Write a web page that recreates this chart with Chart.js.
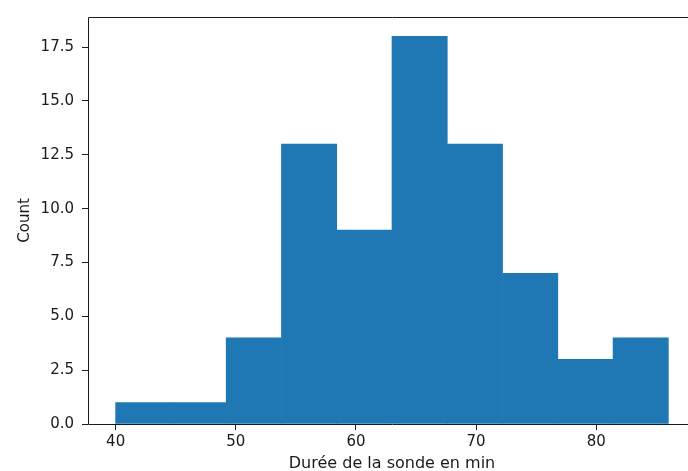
<!DOCTYPE html>
<html>
<head>
<meta charset="utf-8">
<script src="https://cdn.jsdelivr.net/npm/chart.js@4/dist/chart.umd.min.js"></script>
<style>
  html, body { margin: 0; padding: 0; overflow: hidden; background: #fff; width: 688px; height: 471px; }
  #wrap { width: 688px; height: 471px; overflow: hidden; position: relative; }
  #hist { position: absolute; left: 0; top: 0; }
</style>
</head>
<body>
<div id="wrap"><canvas id="hist" width="710" height="473"></canvas></div>
<script>
// Histogram bins (edges) and counts
const binEdges = [40, 44.6, 49.2, 53.8, 58.4, 63, 67.6, 72.2, 76.8, 81.4, 86]
const counts = [1, 1, 4, 13, 9, 18, 13, 7, 3, 4]
const xTicks = [40, 50, 60, 70, 80]
const yTicks = [0, 2.5, 5, 7.5, 10, 12.5, 15, 17.5]

// bar centres from the edges
const points = counts.map((c, i) => ({ x: (binEdges[i] + binEdges[i + 1]) / 2, y: c }))

const ink = '#1a1a1a'
const tickFont = { family: 'DejaVu Sans', size: 15 }

// spines (left, top, bottom) drawn over the bars; the right one is off the picture
const frame = {
  id: 'frame',
  afterDatasetsDraw(chart) {
    const { ctx, chartArea: a } = chart
    const l = Math.round(a.left) + 0.5
    const t = Math.round(a.top) + 0.5
    const b = Math.round(a.bottom) + 0.5
    const r = Math.round(a.right) + 0.5
    ctx.save()
    ctx.strokeStyle = ink
    ctx.lineWidth = 1
    ctx.beginPath()
    ctx.moveTo(r, t); ctx.lineTo(l, t); ctx.lineTo(l, b); ctx.lineTo(r, b)
    ctx.stroke()
    ctx.restore()
  }
}

new Chart(document.getElementById('hist'), {
  type: 'bar',
  data: {
    datasets: [{
      data: points,
      backgroundColor: '#1f77b4',
      borderWidth: 0,
      barPercentage: 1,
      categoryPercentage: 1
    }]
  },
  options: {
    responsive: false,
    animation: false,
    layout: { padding: { left: 0, top: 14, right: 14, bottom: 0 } },
    plugins: { legend: { display: false }, tooltip: { enabled: false } },
    scales: {
      x: {
        type: 'linear',
        offset: false,
        min: 37.7,
        max: 88.3,
        afterBuildTicks: s => { s.ticks = xTicks.map(v => ({ value: v })) },
        afterFit: s => { s.height = 49 },
        grid: { offset: false, drawOnChartArea: false, drawTicks: true, tickLength: 6, color: ink },
        border: { display: false },
        ticks: { color: ink, font: tickFont, padding: 3, maxRotation: 0, callback: v => String(v) },
        title: {
          display: true, text: 'Durée de la sonde en min', color: ink,
          font: { family: 'DejaVu Sans', size: 16 }, padding: { top: 0, bottom: 0 }
        }
      },
      y: {
        min: 0,
        max: 18.9,
        afterBuildTicks: s => { s.ticks = yTicks.map(v => ({ value: v })) },
        afterFit: s => { s.width = 88 },
        grid: { offset: false, drawOnChartArea: false, drawTicks: true, tickLength: 6, color: ink },
        border: { display: false },
        ticks: { color: ink, font: tickFont, padding: 8, callback: v => Number(v).toFixed(1) },
        title: {
          display: true, text: 'Count', color: ink,
          font: { family: 'DejaVu Sans', size: 15 }, padding: { top: 16, bottom: 0 }
        }
      }
    }
  },
  plugins: [frame]
})
</script>
</body>
</html>
